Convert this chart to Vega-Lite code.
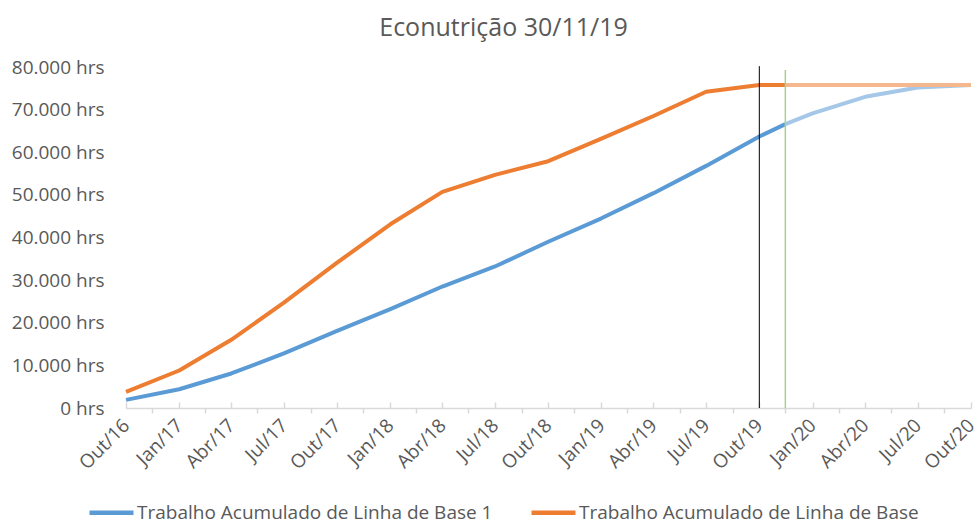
{
  "$schema": "https://vega.github.io/schema/vega-lite/v6.json",
  "width": 845,
  "height": 341,
  "autosize": {"type": "none"},
  "padding": {"left": 126, "top": 67, "right": 5, "bottom": 115},
  "background": "white",
  "title": {
    "text": "Econutrição 30/11/19",
    "font": "Open Sans",
    "fontSize": 25,
    "fontWeight": "normal",
    "color": "#595959",
    "anchor": "middle",
    "baseline": "alphabetic",
    "offset": -3,
    "dx": -45
  },
  "datasets": {
    "trabalho": [
      {"serie": "Trabalho Acumulado de Linha de Base 1", "data": "2016-10-01T00:00:00", "horas": 1900},
      {"serie": "Trabalho Acumulado de Linha de Base 1", "data": "2017-01-01T00:00:00", "horas": 4400},
      {"serie": "Trabalho Acumulado de Linha de Base 1", "data": "2017-04-01T00:00:00", "horas": 8100},
      {"serie": "Trabalho Acumulado de Linha de Base 1", "data": "2017-07-01T00:00:00", "horas": 12800},
      {"serie": "Trabalho Acumulado de Linha de Base 1", "data": "2017-10-01T00:00:00", "horas": 18100},
      {"serie": "Trabalho Acumulado de Linha de Base 1", "data": "2018-01-01T00:00:00", "horas": 23200},
      {"serie": "Trabalho Acumulado de Linha de Base 1", "data": "2018-04-01T00:00:00", "horas": 28500},
      {"serie": "Trabalho Acumulado de Linha de Base 1", "data": "2018-07-01T00:00:00", "horas": 33200},
      {"serie": "Trabalho Acumulado de Linha de Base 1", "data": "2018-10-01T00:00:00", "horas": 39000},
      {"serie": "Trabalho Acumulado de Linha de Base 1", "data": "2019-01-01T00:00:00", "horas": 44500},
      {"serie": "Trabalho Acumulado de Linha de Base 1", "data": "2019-04-01T00:00:00", "horas": 50400},
      {"serie": "Trabalho Acumulado de Linha de Base 1", "data": "2019-07-01T00:00:00", "horas": 56800},
      {"serie": "Trabalho Acumulado de Linha de Base 1", "data": "2019-10-01T00:00:00", "horas": 63700},
      {"serie": "Trabalho Acumulado de Linha de Base 1", "data": "2019-11-15T00:00:00", "horas": 66600},
      {"serie": "Trabalho Acumulado de Linha de Base 1", "data": "2020-01-01T00:00:00", "horas": 69100},
      {"serie": "Trabalho Acumulado de Linha de Base 1", "data": "2020-04-01T00:00:00", "horas": 73000},
      {"serie": "Trabalho Acumulado de Linha de Base 1", "data": "2020-07-01T00:00:00", "horas": 75200},
      {"serie": "Trabalho Acumulado de Linha de Base 1", "data": "2020-10-01T00:00:00", "horas": 75800},
      {"serie": "Trabalho Acumulado de Linha de Base", "data": "2016-10-01T00:00:00", "horas": 3800},
      {"serie": "Trabalho Acumulado de Linha de Base", "data": "2017-01-01T00:00:00", "horas": 8800},
      {"serie": "Trabalho Acumulado de Linha de Base", "data": "2017-04-01T00:00:00", "horas": 16000},
      {"serie": "Trabalho Acumulado de Linha de Base", "data": "2017-07-01T00:00:00", "horas": 24700},
      {"serie": "Trabalho Acumulado de Linha de Base", "data": "2017-10-01T00:00:00", "horas": 34100},
      {"serie": "Trabalho Acumulado de Linha de Base", "data": "2018-01-01T00:00:00", "horas": 43100},
      {"serie": "Trabalho Acumulado de Linha de Base", "data": "2018-04-01T00:00:00", "horas": 50700},
      {"serie": "Trabalho Acumulado de Linha de Base", "data": "2018-07-01T00:00:00", "horas": 54700},
      {"serie": "Trabalho Acumulado de Linha de Base", "data": "2018-10-01T00:00:00", "horas": 57900},
      {"serie": "Trabalho Acumulado de Linha de Base", "data": "2019-01-01T00:00:00", "horas": 63200},
      {"serie": "Trabalho Acumulado de Linha de Base", "data": "2019-04-01T00:00:00", "horas": 68500},
      {"serie": "Trabalho Acumulado de Linha de Base", "data": "2019-07-01T00:00:00", "horas": 74200},
      {"serie": "Trabalho Acumulado de Linha de Base", "data": "2019-10-01T00:00:00", "horas": 75800},
      {"serie": "Trabalho Acumulado de Linha de Base", "data": "2019-11-15T00:00:00", "horas": 75800},
      {"serie": "Trabalho Acumulado de Linha de Base", "data": "2020-01-01T00:00:00", "horas": 75800},
      {"serie": "Trabalho Acumulado de Linha de Base", "data": "2020-04-01T00:00:00", "horas": 75800},
      {"serie": "Trabalho Acumulado de Linha de Base", "data": "2020-07-01T00:00:00", "horas": 75800},
      {"serie": "Trabalho Acumulado de Linha de Base", "data": "2020-10-01T00:00:00", "horas": 75800}
    ]
  },
  "resolve": {"axis": {"x": "independent"}},
  "layer": [
    {
      "data": {"name": "trabalho"},
      "transform": [{"filter": {"field": "data", "lte": {"year": 2019, "month": 11, "date": 15}}}],
      "mark": {"type": "line", "strokeWidth": 4, "strokeJoin": "round", "strokeCap": "butt"},
      "encoding": {
        "x": {
          "field": "data",
          "type": "temporal",
          "scale": {"domain": [{"year": 2016, "month": 10, "date": 1}, {"year": 2020, "month": 10, "date": 1}]},
          "axis": {
            "orient": "bottom",
            "title": null,
            "grid": false,
            "ticks": false,
            "domain": true,
            "domainColor": "#D9D9D9",
            "domainWidth": 1.5,
            "labelFont": "Open Sans",
            "labelFontSize": 19,
            "labelColor": "#595959",
            "labelAngle": -45,
            "labelAlign": "right",
            "labelBaseline": "middle",
            "labelPadding": 14,
            "labelFlush": false,
            "labelOverlap": false,
            "values": [
              {"year": 2016, "month": 10, "date": 1}, {"year": 2017, "month": 1, "date": 1}, {"year": 2017, "month": 4, "date": 1}, {"year": 2017, "month": 7, "date": 1},
              {"year": 2017, "month": 10, "date": 1}, {"year": 2018, "month": 1, "date": 1}, {"year": 2018, "month": 4, "date": 1}, {"year": 2018, "month": 7, "date": 1},
              {"year": 2018, "month": 10, "date": 1}, {"year": 2019, "month": 1, "date": 1}, {"year": 2019, "month": 4, "date": 1}, {"year": 2019, "month": 7, "date": 1},
              {"year": 2019, "month": 10, "date": 1}, {"year": 2020, "month": 1, "date": 1}, {"year": 2020, "month": 4, "date": 1}, {"year": 2020, "month": 7, "date": 1},
              {"year": 2020, "month": 10, "date": 1}
            ],
            "labelExpr": "['Jan','Fev','Mar','Abr','Mai','Jun','Jul','Ago','Set','Out','Nov','Dez'][month(datum.value)] + '/' + (year(datum.value) % 100)"
          }
        },
        "y": {
          "field": "horas",
          "type": "quantitative",
          "scale": {"domain": [0, 80000], "nice": false},
          "axis": {
            "title": null,
            "grid": false,
            "ticks": false,
            "tickSize": 0,
            "domain": false,
            "labelFont": "Open Sans",
            "labelFontSize": 19,
            "labelColor": "#595959",
            "labelPadding": 22,
            "labelFlush": false,
            "labelOverlap": false,
            "values": [0, 10000, 20000, 30000, 40000, 50000, 60000, 70000, 80000],
            "labelExpr": "replace(format(datum.value, ','), ',', '.') + ' hrs'"
          }
        },
        "color": {
          "field": "serie",
          "type": "nominal",
          "sort": ["Trabalho Acumulado de Linha de Base 1", "Trabalho Acumulado de Linha de Base"],
          "scale": {"domain": ["Trabalho Acumulado de Linha de Base 1", "Trabalho Acumulado de Linha de Base"], "range": ["#5B9BD5", "#ED7D31"]},
          "legend": {
            "title": null,
            "orient": "none",
            "direction": "horizontal",
            "legendX": -39,
            "legendY": 421,
            "symbolType": "stroke",
            "symbolSize": 1936,
            "symbolStrokeWidth": 4.5,
            "symbolOpacity": 1,
            "labelFont": "Open Sans",
            "labelFontSize": 19,
            "labelColor": "#595959",
            "labelOffset": 1,
            "columnPadding": 29,
            "labelLimit": 500
          }
        }
      }
    },
    {
      "data": {"name": "trabalho"},
      "transform": [{"filter": {"field": "data", "gte": {"year": 2019, "month": 11, "date": 15}}}],
      "mark": {"type": "line", "strokeWidth": 4, "strokeJoin": "round"},
      "encoding": {
        "x": {
          "field": "data",
          "type": "temporal",
          "axis": {
            "orient": "bottom",
            "title": null,
            "grid": false,
            "labels": false,
            "domain": false,
            "ticks": true,
            "tickSize": 5,
            "tickColor": "#D9D9D9",
            "tickWidth": 1.5,
            "values": [
              {"year": 2016, "month": 11, "date": 15}, {"year": 2017, "month": 2, "date": 14}, {"year": 2017, "month": 5, "date": 16}, {"year": 2017, "month": 8, "date": 16},
              {"year": 2017, "month": 11, "date": 15}, {"year": 2018, "month": 2, "date": 14}, {"year": 2018, "month": 5, "date": 16}, {"year": 2018, "month": 8, "date": 16},
              {"year": 2018, "month": 11, "date": 15}, {"year": 2019, "month": 2, "date": 14}, {"year": 2019, "month": 5, "date": 16}, {"year": 2019, "month": 8, "date": 16},
              {"year": 2019, "month": 11, "date": 15}, {"year": 2020, "month": 2, "date": 15}, {"year": 2020, "month": 5, "date": 16}, {"year": 2020, "month": 8, "date": 16}
            ]
          }
        },
        "y": {"field": "horas", "type": "quantitative"},
        "stroke": {
          "field": "serie",
          "type": "nominal",
          "scale": {"domain": ["Trabalho Acumulado de Linha de Base 1", "Trabalho Acumulado de Linha de Base"], "range": ["#A5C8E8", "#F5B88E"]},
          "legend": null
        }
      }
    },
    {
      "data": {"values": [{"marco": "Out/19", "data": "2019-10-01T00:00:00", "topo": 80200, "base": 0}]},
      "mark": {"type": "rule", "color": "#000000", "strokeWidth": 1},
      "encoding": {
        "x": {
          "field": "data",
          "type": "temporal",
          "axis": {
            "orient": "bottom",
            "title": null,
            "grid": false,
            "labels": false,
            "domain": false,
            "ticks": true,
            "tickSize": -6,
            "tickColor": "#D9D9D9",
            "tickWidth": 1.5,
            "values": [
              {"year": 2016, "month": 10, "date": 1}, {"year": 2017, "month": 1, "date": 1}, {"year": 2017, "month": 4, "date": 1}, {"year": 2017, "month": 7, "date": 1},
              {"year": 2017, "month": 10, "date": 1}, {"year": 2018, "month": 1, "date": 1}, {"year": 2018, "month": 4, "date": 1}, {"year": 2018, "month": 7, "date": 1},
              {"year": 2018, "month": 10, "date": 1}, {"year": 2019, "month": 1, "date": 1}, {"year": 2019, "month": 4, "date": 1}, {"year": 2019, "month": 7, "date": 1},
              {"year": 2019, "month": 10, "date": 1}, {"year": 2020, "month": 1, "date": 1}, {"year": 2020, "month": 4, "date": 1}, {"year": 2020, "month": 7, "date": 1},
              {"year": 2020, "month": 10, "date": 1}
            ]
          }
        },
        "y": {"field": "topo", "type": "quantitative"},
        "y2": {"field": "base"}
      }
    },
    {
      "data": {"values": [{"marco": "Data de status 30/11/19", "data": "2019-11-15T00:00:00", "topo": 79300, "base": 0}]},
      "mark": {"type": "rule", "color": "#A9D18E", "strokeWidth": 1.5},
      "encoding": {
        "x": {"field": "data", "type": "temporal", "axis": null},
        "y": {"field": "topo", "type": "quantitative"},
        "y2": {"field": "base"}
      }
    }
  ],
  "config": {
    "view": {"stroke": null},
    "axis": {"grid": false}
  }
}
